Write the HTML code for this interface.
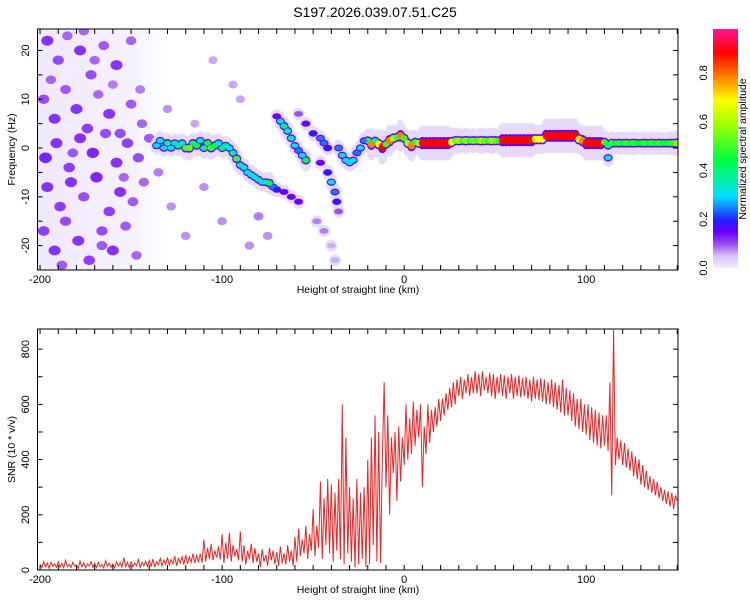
<!DOCTYPE html>
<html><head><meta charset="utf-8">
<style>
body{margin:0;background:#fff;}
svg text{font-family:"Liberation Sans",sans-serif;fill:#000;}
</style></head>
<body>
<svg id="chart" width="750" height="600" viewBox="0 0 750 600">
<defs>
<linearGradient id="cbgrad" x1="0" y1="1" x2="0" y2="0">
<stop offset="0" stop-color="#f3ecfd"/><stop offset="0.05" stop-color="#d9c4f7"/>
<stop offset="0.1" stop-color="#9a4ef0"/><stop offset="0.15" stop-color="#6a00ff"/>
<stop offset="0.2" stop-color="#2020ff"/><stop offset="0.3" stop-color="#00e0ff"/>
<stop offset="0.45" stop-color="#00ff40"/><stop offset="0.6" stop-color="#a0ff00"/>
<stop offset="0.7" stop-color="#ffff00"/><stop offset="0.8" stop-color="#ff8000"/>
<stop offset="0.9" stop-color="#ff0000"/><stop offset="1" stop-color="#ff1493"/>
</linearGradient>
<linearGradient id="noisebg" x1="0" y1="0" x2="1" y2="0">
<stop offset="0" stop-color="#e4d4fa" stop-opacity="0.55"/>
<stop offset="0.7" stop-color="#e8dcfb" stop-opacity="0.4"/>
<stop offset="1" stop-color="#ffffff" stop-opacity="0"/>
</linearGradient>
<clipPath id="clipTop"><rect x="37.5" y="29" width="640.5" height="241"/></clipPath>
<clipPath id="clipBot"><rect x="37.5" y="329" width="640.5" height="241"/></clipPath>
</defs>
<text x="375" y="17" text-anchor="middle" font-size="14">S197.2026.039.07.51.C25</text>
<g id="topPanel"></g>
<g id="botPanel"></g>
<g id="cbPanel"></g>
</svg>
<script>
// ---- data ----
const xTicks = [-200, -100, 0, 100];
const freqTicks = [-20, -10, 0, 10, 20];
const snrTicks = [0, 200, 400, 600, 800];
const cbTicks = [0.0, 0.2, 0.4, 0.6, 0.8];
const snrStart = -200;
const snrValues = [
20,8,30,12,25,6,28,14,22,10, 30,10,24,8,35,12,20,9,28,14,
18,6,32,11,26,8,22,15,30,10, 24,9,28,12,20,7,34,13,25,10,
22,8,30,14,26,10,45,12,28,9, 30,12,25,15,38,10,28,16,32,12,
35,14,40,12,30,18,42,15,36,20, 45,18,38,22,50,15,42,25,48,20,
55,22,48,28,60,25,52,30,58,26, 110,30,80,40,95,35,70,45,85,38,
130,25,100,40,135,30,90,50,75,35, 140,30,90,20,70,40,95,25,80,30,
60,10,75,30,55,15,80,35,70,20, 65,15,85,25,60,20,90,30,70,15,
120,30,150,50,110,60,160,40,130,70, 220,50,160,80,320,40,260,90,330,60,
310,30,280,70,330,40,600,20,480,60, 300,30,260,10,330,20,280,40,300,10,
400,20,480,90,560,30,500,25,400,680, 300,560,200,480,350,500,250,520,320,480,
380,600,400,550,420,610,450,580,480,600, 300,520,420,600,460,580,500,590,520,620,
540,620,560,640,580,660,590,680,600,690, 630,700,620,690,640,710,630,700,640,720,
640,710,630,720,650,700,640,715,630,710, 620,700,640,710,630,705,620,700,640,710,
620,700,630,705,625,695,630,700,620,690, 610,700,620,690,615,695,610,690,600,680,
600,690,590,680,580,670,570,690,560,660, 560,650,540,640,520,620,510,620,500,600,
490,600,470,590,460,580,450,570,440,560, 450,560,430,680,270,870,380,480,400,470,
380,460,370,440,360,430,340,410,330,400, 310,380,300,360,290,340,280,330,270,320,
260,300,250,290,240,285,230,280,220,270, 250];
const ridgeX = [-20,-18,-16,-14,-12,-10,-8,-6,-4,-2,0,2,4,6,8,10,12,14,16,18,20,22,24,26,28,30,32,34,36,38,40,42,44,46,48,50,52,54,56,58,60,62,64,66,68,70,72,74,76,78,80,82,84,86,88,90,92,94,96,98,100,102,104,106,108,110,112,114,116,118,120,122,124,126,128,130,132,134,136,138,140,142,144,146,148,150,112,
-136,-134,-132,-130,-128,-126,-124,-122,-120,-118,-116,-114,-112,-110,-108,-106,-104,-102,-100,-98,-96,
-94,-92,-90,-88,-86,-84,-82,-80,-78,-76,-74,-72,-70,-66,-62,-58,
-70,-68,-66,-64,-62,-60,-58,-56,-54,
-58,-54,-50,-46,-44,-42,
-46,-42,-40,-38,-37,-36,
-36,-34,-32,-30,-28,-26,-24,-22,
-48,-44,-40,-38];
const ridgeF = [1.5,0.8,1.5,0.8,0.2,0.8,1.5,2,2.2,2.5,2,1,0.5,1.2,1,1,1,1,1,1,1,1,1,1.2,1.5,1.5,1.5,1.5,1.5,1.5,1.5,1.5,1.5,1.5,1.5,1.5,1.5,1.6,1.6,1.6,1.6,1.6,1.6,1.6,1.6,1.6,1.8,1.8,1.8,2.5,2.5,2.5,2.5,2.5,2.5,2.5,2.5,2.5,1.8,1.5,1,1,1,1,1,1.2,0.5,1,1,1,1,1,1,1,1,1,1,1,1,1,1,1,1,1,1,1,-2,
0.5,1.5,0,1,0,1,0.5,1,0,0,1,0.5,1.5,0,1,0,0.5,1,0,0.5,0,
-1,-2.2,-3.5,-4,-5,-5.5,-6,-6.5,-7,-7,-7.2,-8,-8.5,-9,-10,-11,
6.5,5.5,4.5,3.5,2,0.5,-0.5,-1.5,-2.5,
7,5,3,2,1,0,
-3,-5,-7,-9,-11,-13,
0,-1.5,-2.5,-3,-2.5,-1,0,1.5,
-15,-17,-20,-23];
const ridgeA = [0.5,0.8,0.4,0.7,0.9,0.5,0.8,0.6,0.5,0.8,0.5,0.6,0.8,0.5,0.6,0.9,0.9,0.9,0.9,0.9,0.9,0.9,0.9,0.7,0.55,0.6,0.5,0.6,0.5,0.55,0.5,0.6,0.55,0.5,0.6,0.55,0.5,0.9,0.9,0.9,0.9,0.9,0.9,0.9,0.9,0.9,0.7,0.7,0.7,0.9,0.9,0.9,0.9,0.9,0.9,0.9,0.9,0.9,0.7,0.8,0.9,0.9,0.9,0.9,0.9,0.5,0.4,0.5,0.45,0.5,0.45,0.5,0.45,0.5,0.45,0.45,0.5,0.45,0.5,0.45,0.5,0.45,0.45,0.5,0.5,0.6,0.3,
0.3,0.35,0.3,0.4,0.3,0.35,0.4,0.35,0.5,0.55,0.4,0.45,0.35,0.4,0.45,0.5,0.45,0.35,0.4,0.35,0.3,
0.4,0.5,0.35,0.35,0.3,0.35,0.3,0.35,0.3,0.35,0.45,0.25,0.2,0.15,0.15,0.15,
0.15,0.3,0.4,0.35,0.35,0.3,0.25,0.3,0.45,
0.1,0.15,0.2,0.25,0.25,0.2,
0.15,0.2,0.3,0.25,0.2,0.1,
0.25,0.3,0.3,0.3,0.3,0.25,0.3,0.25,
0.08,0.08,0.06,0.06];
const noiseX = [-196,-190,-185,-178,-172,-165,-158,-150,-145,-198,-192,-186,-180,-174,-168,-162,-156,-150,-144,-197,-191,-184,-178,-171,-164,-158,-152,-146,-140,-196,-189,-183,-176,-169,-162,-156,-149,-143,-198,-192,-186,-179,-173,-166,-160,-153,-147,-194,-182,-170,-160,-154,-188,-176,-166,-135,-130,-128,-120,-115,-110,-105,-100,-90,-85,-80,-75,-94];
const noiseF = [22,18,23,20,15,21,17,22,12,10,6,12,8,4,11,7,3,9,5,-2,1,-4,2,-1,3,-3,1,-2,2,-8,-12,-7,-10,-6,-13,-9,-11,-7,-17,-21,-15,-19,-23,-17,-21,-16,-22,14,-1,18,13,-6,-24,24,-20,-5,8,-12,-18,5,-8,18,-15,10,-20,-14,-18,13];
const noiseA = [0.1,0.08,0.06,0.1,0.08,0.07,0.1,0.06,0.05,0.08,0.1,0.07,0.1,0.09,0.06,0.1,0.08,0.07,0.06,0.12,0.1,0.09,0.1,0.11,0.08,0.1,0.09,0.08,0.07,0.1,0.09,0.1,0.08,0.11,0.09,0.1,0.07,0.06,0.09,0.1,0.08,0.1,0.09,0.08,0.1,0.07,0.06,0.06,0.07,0.06,0.05,0.06,0.07,0.06,0.07,0.05,0.04,0.04,0.04,0.03,0.04,0.03,0.04,0.03,0.04,0.05,0.04,0.03];

// ---- scales ----
const NS = 'http://www.w3.org/2000/svg';
const PL = 37.5, PR = 678;
const X0 = -201.4, X1 = 150.4;
function sx(v){ return PL + (v - X0) / (X1 - X0) * (PR - PL); }
const TT = 29, TB = 270, F0 = -25, F1 = 24.4;
function sf(v){ return TB - (v - F0) / (F1 - F0) * (TB - TT); }
const BT = 329, BB = 570, S0 = 0, S1 = 873;
function ss(v){ return BB - (v - S0) / (S1 - S0) * (BB - BT); }
const CT = 29, CB = 268, C1 = 0.98;
function sc(v){ return CB - v / C1 * (CB - CT); }
const stops = [[0,[243,236,253]],[0.05,[217,196,247]],[0.1,[154,78,240]],[0.15,[106,0,255]],[0.2,[32,32,255]],[0.3,[0,224,255]],[0.45,[0,255,64]],[0.6,[160,255,0]],[0.7,[255,255,0]],[0.8,[255,128,0]],[0.9,[255,0,0]],[1,[255,20,147]]];
function cmap(a){
  a = Math.max(0, Math.min(1, a));
  for (let i = 1; i < stops.length; i++) {
    if (a <= stops[i][0]) {
      const t = (a - stops[i-1][0]) / (stops[i][0] - stops[i-1][0]);
      const c = stops[i-1][1].map((v, k) => Math.round(v + (stops[i][1][k] - v) * t));
      return 'rgb(' + c.join(',') + ')';
    }
  }
  return 'rgb(255,20,147)';
}
function mk(tag, attrs, parent){
  const e = document.createElementNS(NS, tag);
  for (const k in attrs) e.setAttribute(k, attrs[k]);
  parent.appendChild(e);
  return e;
}

// ---- top panel ----
const topG = document.getElementById('topPanel');
const tclip = mk('g', {'clip-path':'url(#clipTop)'}, topG);
mk('rect', {x: sx(-201.4), y: TT, width: sx(-125) - sx(-201.4), height: TB - TT, fill: 'url(#noisebg)'}, tclip);
for (let i = 0; i < noiseX.length; i++) {
  const b = mk('ellipse', {cx: sx(noiseX[i]), cy: sf(noiseF[i]), rx: 4 + noiseA[i] * 20, ry: 3.5 + noiseA[i] * 15, fill: cmap(noiseA[i] + 0.04), opacity: 0.85}, tclip);
  
  
}
for (let pass = 0; pass < 3; pass++) {
  for (let i = 0; i < ridgeX.length; i++) {
    const a = ridgeA[i];
    const cx = sx(ridgeX[i]), cy = sf(ridgeF[i]);
    let e;
    if (pass === 0) e = mk('ellipse', {cx: cx, cy: cy, rx: 6, ry: 5 + a * 14, fill: '#e6d8fa', opacity: 0.9}, tclip);
    else if (pass === 1) e = mk('ellipse', {cx: cx, cy: cy, rx: 4.5, ry: 2.5 + a * 4, fill: cmap(Math.min(a, 0.16))}, tclip);
    else e = mk('ellipse', {cx: cx, cy: cy, rx: 3.5, ry: 1.5 + a * 3, fill: cmap(a)}, tclip);
    
    
  }
}

function drawFrame(parent, yT, yB, yTicks, yfn, minorStep, yMin, yMax, yTitle, nameP){
  const f = mk('rect', {x: PL, y: yT, width: PR - PL, height: yB - yT, fill: 'none', stroke: '#000', 'stroke-width': 1}, parent);
  
  
  for (let v = -200; v <= 150; v += 10) {
    const x = sx(v);
    mk('line', {x1: x, x2: x, y1: yB, y2: yB - 5, stroke: '#000'}, parent);
    mk('line', {x1: x, x2: x, y1: yT, y2: yT + 5, stroke: '#000'}, parent);
  }
  for (let v = yMin; v <= yMax; v += minorStep) {
    const y = yfn(v);
    mk('line', {x1: PL, x2: PL + 5, y1: y, y2: y, stroke: '#000'}, parent);
    mk('line', {x1: PR, x2: PR - 5, y1: y, y2: y, stroke: '#000'}, parent);
  }
  xTicks.forEach(v => {
    const t = mk('text', {x: sx(v), y: yB + 13, 'text-anchor': 'middle', 'font-size': 11}, parent);
    t.textContent = v;
    
    
  });
  yTicks.forEach(v => {
    const y = yfn(v);
    const t = mk('text', {x: 29, y: y, 'text-anchor': 'middle', 'font-size': 11, transform: 'rotate(-90 29 ' + y + ')'}, parent);
    t.textContent = v;
    
    
  });
  const xt = mk('text', {x: 358, y: yB + 23, 'text-anchor': 'middle', 'font-size': 10.5}, parent);
  xt.textContent = 'Height of straight line (km)';
  
  
  const ym = (yT + yB) / 2;
  const yt = mk('text', {x: 15, y: ym, 'text-anchor': 'middle', 'font-size': 10.5, transform: 'rotate(-90 15 ' + ym + ')'}, parent);
  yt.textContent = yTitle;
  
  
}
drawFrame(topG, TT, TB, freqTicks, sf, 5, -25, 24, 'Frequency (Hz)', 'spectrogram');

// ---- bottom panel ----
const botG = document.getElementById('botPanel');
const bclip = mk('g', {'clip-path':'url(#clipBot)'}, botG);
let d = '';
snrValues.forEach((v, i) => { d += (i ? 'L' : 'M') + sx(snrStart + i).toFixed(2) + ' ' + ss(v).toFixed(2); });
const snrLine = mk('path', {d: d, fill: 'none', stroke: '#ee2222', 'stroke-width': 1}, bclip);


drawFrame(botG, BT, BB, snrTicks, ss, 100, 0, 870, 'SNR (10 * v/v)', 'snr');

// ---- colorbar ----
const cbG = document.getElementById('cbPanel');
const cbBar = mk('rect', {x: 713, y: CT, width: 25, height: CB - CT, fill: 'url(#cbgrad)'}, cbG);


cbTicks.forEach(v => {
  const y = sc(v);
  const t = mk('text', {x: 707, y: y, 'text-anchor': 'middle', 'font-size': 11, transform: 'rotate(-90 707 ' + y + ')'}, cbG);
  t.textContent = v.toFixed(1);
  
  
});
const cbt = mk('text', {x: 746, y: 149, 'text-anchor': 'middle', 'font-size': 10.5, transform: 'rotate(-90 746 149)'}, cbG);
cbt.textContent = 'Normalized spectral amplitude';


</script>
</body></html>
